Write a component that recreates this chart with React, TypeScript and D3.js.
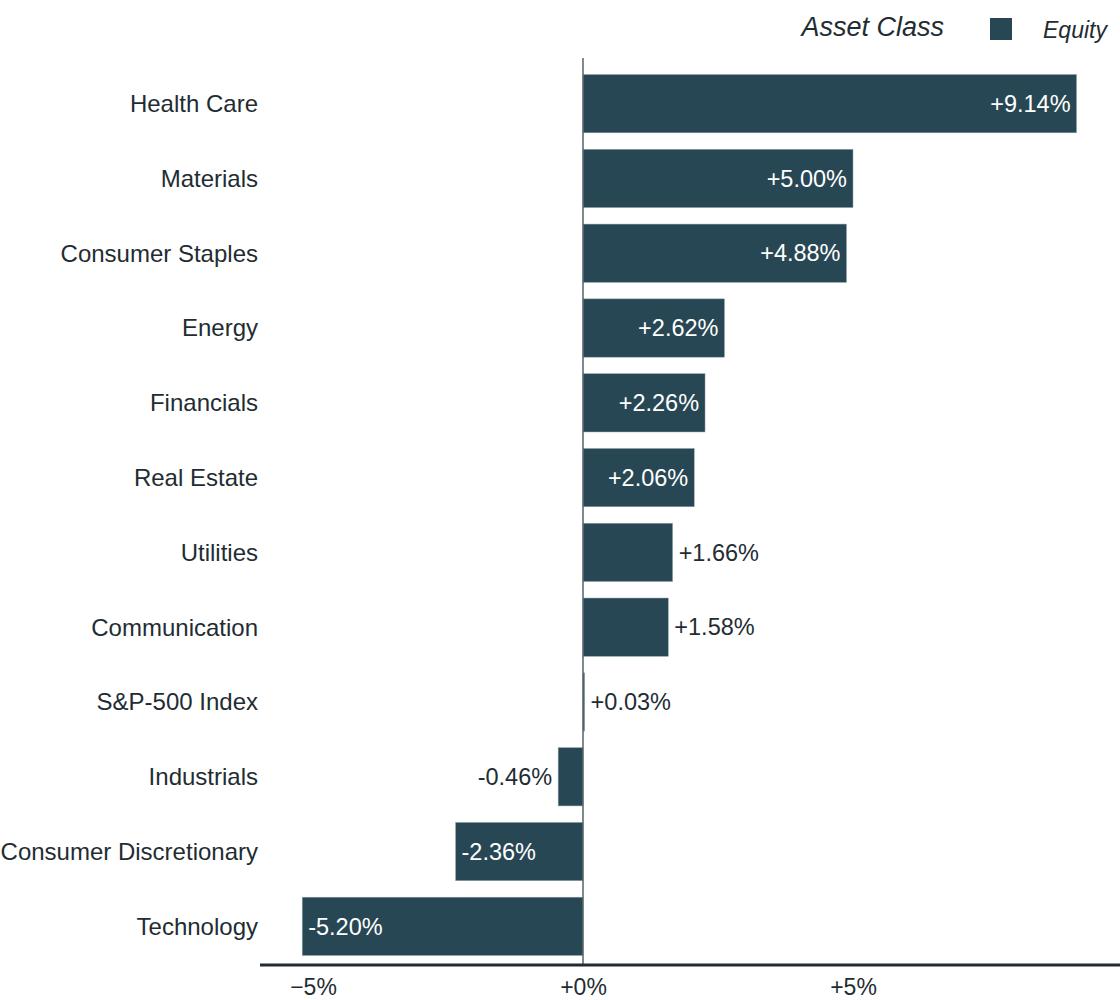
import * as d3 from "d3";
import { useEffect, useRef } from "react";

const categories = [
  "Health Care",
  "Materials",
  "Consumer Staples",
  "Energy",
  "Financials",
  "Real Estate",
  "Utilities",
  "Communication",
  "S&P-500 Index",
  "Industrials",
  "Consumer Discretionary",
  "Technology",
];
const values = [9.14, 5.0, 4.88, 2.62, 2.26, 2.06, 1.66, 1.58, 0.03, -0.46, -2.36, -5.2];
const xTicks = [-5, 0, 5];
const legendTitle = "Asset Class";
const seriesName = "Equity";

const width = 1120;
const height = 1000;
const barColor = "#284754";
const textColor = "#1f2d33";
const font = "'Liberation Sans', Arial, Helvetica, sans-serif";

export default function App() {
  const ref = useRef<SVGSVGElement>(null);

  useEffect(() => {
    const svg = d3.select(ref.current);
    svg.selectAll("*").remove();

    const x = d3.scaleLinear().domain([-6, 10]).range([259, 1123]);
    const y = d3
      .scaleBand()
      .domain(categories)
      .range([70, 960])
      .paddingInner(0.22)
      .paddingOuter(0.06);

    const data = categories.map((c, i) => ({ c, v: values[i] }));

    // bars
    svg
      .append("g")
      .selectAll("rect")
      .data(data)
      .join("rect")
      .attr("x", (d) => x(Math.min(0, d.v)))
      .attr("y", (d) => y(d.c)!)
      .attr("width", (d) => Math.abs(x(d.v) - x(0)))
      .attr("height", y.bandwidth())
      .attr("fill", barColor)
      .attr("stroke", "#9aa9ae")
      .attr("stroke-width", 0.5);

    // category labels
    svg
      .append("g")
      .selectAll("text")
      .data(data)
      .join("text")
      .attr("x", 258)
      .attr("y", (d) => y(d.c)! + y.bandwidth() / 2)
      .attr("dy", "0.35em")
      .attr("text-anchor", "end")
      .attr("font-family", font)
      .attr("font-size", 24)
      .attr("fill", textColor)
      .text((d) => d.c);

    // value labels
    const fmt = (v: number) => (v >= 0 ? "+" : "") + v.toFixed(2) + "%";
    svg
      .append("g")
      .selectAll("text")
      .data(data)
      .join("text")
      .each(function (d) {
        const w = Math.abs(x(d.v) - x(0));
        const inside = w > 100;
        const t = d3.select(this);
        let px: number;
        let anchor: string;
        if (d.v >= 0) {
          px = inside ? x(d.v) - 6 : x(d.v) + 6;
          anchor = inside ? "end" : "start";
        } else {
          px = inside ? x(d.v) + 6 : x(d.v) - 6;
          anchor = inside ? "start" : "end";
        }
        t.attr("x", px)
          .attr("text-anchor", anchor)
          .attr("fill", inside ? "#ffffff" : textColor);
      })
      .attr("y", (d) => y(d.c)! + y.bandwidth() / 2)
      .attr("dy", "0.35em")
      .attr("font-family", font)
      .attr("font-size", 23.5)
      .text((d) => fmt(d.v));

    // zero line
    svg
      .append("line")
      .attr("x1", x(0))
      .attr("x2", x(0))
      .attr("y1", 58)
      .attr("y2", 965)
      .attr("stroke", "#55636a")
      .attr("stroke-width", 1.5);

    // x axis
    const axis = d3
      .axisBottom(x)
      .tickValues(xTicks)
      .tickSize(0)
      .tickPadding(14)
      .tickFormat((d) => {
        const v = +d;
        return (v < 0 ? "\u2212" + Math.abs(v) : "+" + v) + "%";
      });
    svg
      .append("g")
      .attr("transform", "translate(0,965)")
      .call(axis)
      .call((g) => g.select(".domain").attr("stroke", textColor).attr("stroke-width", 3).attr("d", "M260,0H1120"))
      .call((g) =>
        g
          .selectAll("text")
          .attr("font-family", font)
          .attr("font-size", 23)
          .attr("fill", textColor)
      );

    // legend
    svg
      .append("text")
      .attr("x", 944)
      .attr("y", 36)
      .attr("text-anchor", "end")
      .attr("font-family", font)
      .attr("font-style", "italic")
      .attr("font-size", 27)
      .attr("fill", textColor)
      .text(legendTitle);
    svg
      .append("rect")
      .attr("x", 990)
      .attr("y", 18)
      .attr("width", 22)
      .attr("height", 22)
      .attr("fill", barColor);
    svg
      .append("text")
      .attr("x", 1043)
      .attr("y", 38)
      .attr("font-family", font)
      .attr("font-style", "italic")
      .attr("font-size", 23)
      .attr("fill", textColor)
      .text(seriesName);
  }, []);

  return (
    <svg
      ref={ref}
      width={width}
      height={height}
      style={{ position: "absolute", left: 0, top: 0, background: "#fff" }}
    />
  );
}
